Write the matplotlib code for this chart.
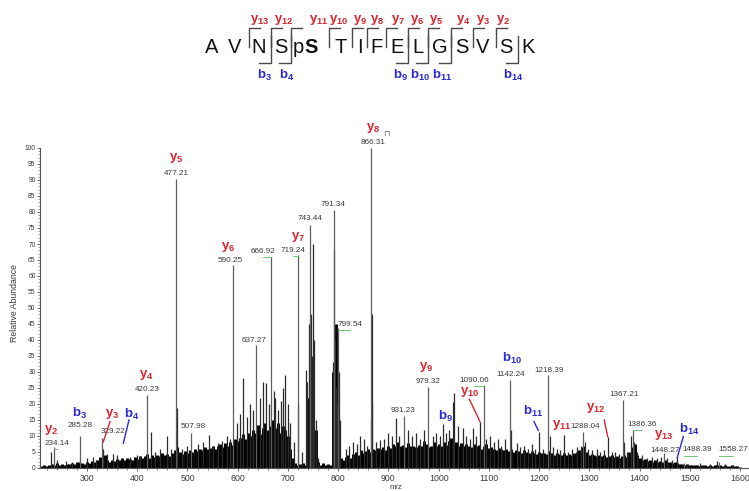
import numpy as np
import matplotlib
matplotlib.use("Agg")
import matplotlib.pyplot as plt

plt.rcParams['font.family'] = ['Liberation Sans', 'DejaVu Sans']
plt.rcParams['mathtext.fontset'] = 'custom'
plt.rcParams['mathtext.rm'] = 'Liberation Sans'
plt.rcParams['mathtext.it'] = 'Liberation Sans:italic'
plt.rcParams['mathtext.bf'] = 'Liberation Sans:bold'

# ---------------- data ----------------
residues = ['A', 'V', 'N', 'S', 'pS', 'T', 'I', 'F', 'E', 'L', 'G', 'S', 'V', 'S', 'K']
y_ions = [13, 12, 11, 10, 9, 8, 7, 6, 5, 4, 3, 2]
b_ions = [3, 4, 9, 10, 11, 14]

# labelled peaks (m/z, relative abundance)
labeled_mz = [234.14, 285.28, 329.22, 420.23, 477.21, 507.98, 590.25, 637.27, 666.92, 719.24,
              743.44, 791.34, 799.54, 866.31, 931.23, 979.32, 1090.06, 1142.24, 1218.39, 1288.04,
              1367.21, 1386.36, 1448.27, 1488.39, 1558.27]
labeled_int = [6.5, 10.0, 9.5, 22.8, 90.3, 11.0, 63.4, 38.4, 66.0, 66.5,
               76.0, 80.6, 43.7, 100.0, 16.2, 25.4, 26.0, 27.5, 29.0, 11.3,
               21.3, 12.0, 4.7, 1.5, 2.0]

# other distinct peaks
spike_mz = [229.0, 240, 258, 270, 300, 312, 318, 331.2, 340, 352,
            360, 385, 399, 405, 427, 435, 445, 459, 467, 478.2,
            490, 500, 520, 530, 543, 550, 561, 568, 578, 585,
            598, 604, 611, 618, 624, 630, 645, 650, 656, 662,
            672, 675, 680, 686, 690, 694, 700, 705, 712, 720.3,
            728, 735, 738, 741, 745, 748, 750, 752, 755, 760,
            790, 792.3, 794, 796, 798, 801, 803, 815, 822, 830,
            838, 844, 852, 858, 865, 867.3, 868.3, 875, 884, 892,
            900, 908, 915, 922, 940, 947, 955, 962, 970, 988,
            995, 1002, 1009, 1015, 1020, 1028, 1031, 1038, 1048, 1055,
            1062, 1069, 1075, 1083, 1095, 1103, 1110, 1118, 1125, 1132,
            1145, 1156, 1162, 1170, 1178, 1185, 1192, 1200, 1208, 1221,
            1228, 1235, 1242, 1250, 1258, 1265, 1275, 1283, 1292, 1298,
            1305, 1315, 1322, 1330, 1337, 1345, 1352, 1360, 1368.2, 1375,
            1384, 1388, 1395, 1405, 1415, 1425, 1435, 1442, 1455, 1465,
            1475, 1495, 1520, 1540, 1555, 1570, 1585]
spike_int = [5.1, 2.5, 2.2, 1.8, 3.0, 3.4, 2.5, 6.0, 4.5, 4.5,
             4.0, 3.5, 4.0, 3.8, 11.3, 5.0, 6.0, 10.0, 6.0, 18.7,
             6.0, 7.0, 7.5, 8.0, 10.3, 7.0, 7.9, 8.5, 10.0, 9.0,
             14.0, 17.0, 28.0, 16.0, 20.0, 18.0, 22.0, 27.0, 26.5, 20.0,
             24.0, 22.0, 18.0, 21.0, 25.0, 29.0, 20.0, 14.0, 8.0, 20.0,
             5.0, 30.6, 27.0, 45.0, 48.0, 35.0, 70.0, 40.0, 15.0, 3.0,
             33.0, 68.0, 40.0, 25.0, 20.0, 30.0, 15.0, 6.0, 7.0, 8.0,
             7.5, 10.0, 9.0, 7.0, 15.0, 48.0, 20.0, 8.0, 8.7, 9.0,
             11.0, 10.0, 15.6, 10.0, 12.0, 10.0, 11.0, 9.0, 12.0, 10.0,
             11.0, 10.0, 13.7, 11.0, 12.0, 20.7, 23.5, 13.0, 12.5, 10.0,
             9.0, 12.5, 10.0, 14.5, 9.0, 10.0, 8.0, 9.0, 7.0, 9.0,
             12.0, 7.8, 6.5, 7.0, 6.0, 7.5, 6.0, 11.3, 6.0, 10.0,
             6.5, 6.0, 5.5, 10.3, 5.0, 6.0, 6.6, 7.0, 8.0, 6.0,
             5.5, 6.0, 5.0, 5.5, 9.8, 5.0, 5.0, 4.5, 8.0, 5.0,
             10.0, 8.0, 5.0, 4.0, 3.0, 3.5, 3.0, 3.5, 3.0, 2.5,
             3.4, 1.2, 1.5, 1.2, 2.2, 1.3, 1.0]

# dense background signal, one value per 5 m/z starting at 210
noise_start = 210
noise_step = 5
noise_level = [
    0.5, 0.8, 0.6, 1.0, 1.2, 0.8, 1.5, 1.0, 1.3, 0.9,
    1.4, 1.1, 1.6, 1.2, 1.8, 2.0, 1.5, 1.3, 1.9, 1.6,
    2.2, 1.8, 2.5, 3.5, 3.0, 4.2, 2.4, 2.0, 2.6, 2.2,
    2.8, 2.4, 3.0, 2.6, 3.2, 2.8, 2.5, 3.3, 2.9, 3.6,
    3.0, 3.8, 4.5, 3.2, 4.0, 3.5, 4.2, 3.8, 4.6, 4.0,
    4.4, 3.8, 4.8, 5.5, 6.5, 5.0, 4.5, 5.2, 4.8, 5.6,
    5.0, 5.8, 5.2, 6.0, 5.5, 6.5, 5.8, 6.2, 7.0, 6.0,
    6.8, 7.5, 6.5, 7.8, 7.0, 8.0, 7.2, 9.0, 8.5, 9.5,
    10.5, 9.0, 11.0, 10.0, 12.0, 11.0, 13.5, 10.5, 12.5, 14.0,
    12.0, 13.0, 15.0, 12.5, 14.0, 11.0, 13.0, 12.0, 10.0, 6.0,
    3.0, 1.5, 1.0, 1.2, 1.5, 1.0, 22.0, 30.0, 28.0, 12.0,
    2.0, 1.0, 1.5, 0.8, 1.2, 1.0, 30.0, 45.0, 1.5, 3.0,
    2.5, 3.5, 4.0, 3.2, 4.5, 5.0, 4.2, 5.5, 4.8, 5.2,
    5.8, 5.0, 6.0, 5.5, 6.2, 5.8, 6.5, 5.5, 7.0, 6.2,
    7.5, 6.8, 8.0, 7.0, 7.2, 6.5, 7.8, 6.8, 7.0, 6.5,
    7.2, 6.8, 8.5, 7.5, 6.5, 7.0, 8.0, 6.8, 7.5, 7.0,
    8.0, 7.2, 8.5, 9.5, 7.5, 8.2, 7.0, 7.8, 6.8, 7.5,
    7.0, 6.5, 7.5, 6.8, 7.2, 6.0, 6.8, 7.5, 6.2, 6.5,
    6.0, 5.5, 6.2, 5.8, 5.5, 6.0, 5.2, 5.8, 5.0, 5.5,
    5.2, 4.8, 5.5, 5.0, 4.6, 5.2, 4.8, 4.5, 5.0, 4.6,
    4.8, 4.5, 5.2, 4.6, 4.2, 4.8, 4.4, 4.0, 4.6, 4.2,
    4.5, 4.0, 4.8, 5.0, 5.5, 6.5, 7.0, 5.0, 4.2, 4.5,
    4.0, 3.8, 4.2, 3.6, 4.0, 3.5, 3.8, 4.2, 3.4, 3.8,
    3.2, 3.6, 4.0, 3.5, 5.0, 6.5, 7.5, 4.0, 3.0, 2.5,
    2.8, 2.2, 2.5, 2.0, 2.4, 1.8, 2.2, 2.0, 2.6, 1.8,
    2.0, 1.6, 1.8, 1.5, 1.4, 1.2, 1.0, 1.2, 0.9, 1.0,
    0.8, 1.0, 0.7, 0.9, 0.8, 0.6, 0.9, 0.7, 0.8, 1.0,
    0.8, 0.6, 0.9, 0.7, 0.5, 0.8, 0.6, 0.5, 0.4]

# ion annotations on the spectrum
ion_kind = ['y', 'b', 'y', 'b', 'y', 'y', 'y', 'y', 'y', 'y',
            'b', 'y', 'b', 'b', 'y', 'y', 'y', 'b']
ion_num = [2, 3, 3, 4, 4, 5, 6, 7, 8, 9,
           9, 10, 10, 11, 11, 12, 13, 14]

# ---------------- layout ----------------
W, H = 749, 491
RED = '#d9262e'
BLUE = '#2a2ad4'
TXT = '#3a3a3a'

# label centres of the peak values (m/z, abundance units)
val_lab_x = [239.7, 286.1, 351.8, 420.0, 477.2, 511.6, 584.7, 633.1, 649.8, 710.7,
             744.0, 790.4, 823.6, 869.4, 929.7, 979.5, 1070.5, 1143.5, 1219.8, 1291.4,
             1369.1, 1404.3, 1450.7, 1514.4, 1586.1]
val_lab_y = [7.8, 13.4, 11.3, 24.4, 92.1, 12.9, 64.8, 39.7, 67.8, 68.1,
             77.9, 82.2, 44.9, 101.6, 17.9, 27.0, 27.5, 29.3, 30.6, 12.9,
             23.0, 13.7, 5.6, 5.8, 5.8]
leader = [True, False, False, False, False, False, False, False, True, True,
          False, False, True, False, False, False, True, False, False, False,
          False, True, False, True, True]

ion_lab_x = [229.5, 286.1, 349.2, 389.0, 418.7, 477.2, 581.3, 720.7, 869.4, 974.9,
             1014.1, 1062.5, 1145.4, 1187.3, 1245.0, 1313.3, 1447.3, 1498.5]
ion_lab_y = [11.9, 17.2, 16.8, 16.6, 29.1, 96.8, 69.0, 72.1, 106.3, 31.5,
             16.0, 23.8, 34.3, 17.6, 13.4, 18.7, 10.3, 11.9]
pointers = {2: ((345.8, 14.5), (332.5, 8.2)),
            3: ((383.6, 15.0), (372.3, 7.7)),
            11: ((1061.1, 21.5), (1082.4, 14.5)),
            13: ((1189.9, 14.5), (1198.4, 11.7)),
            15: ((1329.8, 15.0), (1336.6, 9.8)),
            17: ((1487.1, 9.8), (1475.2, 3.3))}

# sequence layout (pixels)
letter_x = [211.7, 235.0, 258.3, 280.7, 304.0, 340.7, 360.0, 376.7, 396.7, 417.7,
            440.0, 461.7, 482.7, 506.0, 528.3]
gap_x = [223, 249, 270.5, 291, 329, 352, 367, 386, 407.5, 428, 451, 473, 496, 518]
y_lab_x = [260, 283.3, 318.3, 338.3, 360, 376.7, 398.3, 416.7, 436.7, 463.3, 483.3, 503.3]
b_lab_x = [265, 286.7, 400.7, 420, 441.7, 513.3]

fig = plt.figure(figsize=(W / 100, H / 100), dpi=100)

# ---------- spectrum axes ----------
ax_left, ax_right, ax_bot, ax_top100 = 40, 749, 468, 148
x0_mz = 300 - (87 - ax_left) / 0.5023
x1_mz = x0_mz + (ax_right - ax_left) / 0.5023
ax = fig.add_axes([ax_left / W, 1 - ax_bot / H, (ax_right - ax_left) / W, (ax_bot - ax_top100) / H])
ax.set_xlim(x0_mz, x1_mz)
ax.set_ylim(0, 100)

noise_mz = noise_start + noise_step * np.arange(len(noise_level))
ax.vlines(noise_mz, 0, noise_level, color='black', lw=2.1, zorder=2)
ax.vlines(spike_mz, 0, spike_int, color='#2a2a2a', lw=0.9, zorder=3)
ax.vlines(labeled_mz, 0, labeled_int, color='#5e5e5e', lw=0.9, zorder=3)

for mz, h, lx, ly, ld in zip(labeled_mz, labeled_int, val_lab_x, val_lab_y, leader):
    ax.text(lx, ly, f'{mz:.2f}', fontsize=5.9, color=TXT, ha='center', va='center',
            clip_on=False, zorder=5)
    if ld:
        ax.plot([lx, mz], [ly - 1.9, ly - 1.9], color='#5cbf60', lw=0.6, zorder=4, clip_on=False)

for i, (k, n, lx, ly) in enumerate(zip(ion_kind, ion_num, ion_lab_x, ion_lab_y)):
    col = RED if k == 'y' else BLUE
    ax.text(lx, ly, r'$\mathbf{%s}_{\mathbf{%d}}$' % (k, n), fontsize=9.5, color=col,
            ha='center', va='center', clip_on=False, zorder=6)
    if i in pointers:
        (xa, ya), (xb, yb) = pointers[i]
        ax.plot([xa, xb], [ya, yb], color=col, lw=1.0, zorder=6)

ax.text(895.3, 104.6, '\u2293', fontsize=6, color='#666666', ha='center', va='center',
        family='DejaVu Sans', clip_on=False)

for s in ['top', 'right']:
    ax.spines[s].set_visible(False)
for s in ['left', 'bottom']:
    ax.spines[s].set_color('#555555')
    ax.spines[s].set_linewidth(0.8)

ax.set_xticks(np.arange(300, 1601, 100))
ax.set_xticks(np.arange(220, 1611, 20), minor=True)
ax.set_yticks(np.arange(0, 101, 5))
ax.set_yticks(np.arange(0, 101, 1), minor=True)
ax.tick_params(axis='x', which='major', labelsize=6.3, length=2.5, width=0.6,
               color='#555555', labelcolor=TXT, pad=2.0)
ax.tick_params(axis='x', which='minor', length=1.5, width=0.5, color='#555555')
ax.tick_params(axis='y', which='major', labelsize=4.8, length=2.2, width=0.6,
               color='#555555', labelcolor=TXT, pad=1)
ax.tick_params(axis='y', which='minor', length=1.3, width=0.4, color='#555555')
ax.patch.set_alpha(0)

fig.text(15 / W, 1 - 303 / H, 'Relative Abundance', rotation=90, fontsize=6.3,
         color=TXT, ha='center', va='center')
fig.text(396 / W, 1 - 487.5 / H, 'm/z', fontsize=5.8, color=TXT, ha='center', va='center')

# ---------- peptide sequence with fragment brackets ----------
sq = fig.add_axes([0, 0, 1, 1], zorder=10)
sq.set_xlim(0, W)
sq.set_ylim(H, 0)
sq.axis('off')
sq.patch.set_alpha(0)

base_y = 53
SEQ_FS = 14.5
for r, x in zip(residues, letter_x):
    if r == 'pS':
        sq.text(x - 0.5, base_y, 'p', fontsize=SEQ_FS, color='#111111', ha='right', va='baseline')
        sq.text(x + 0.5, base_y, 'S', fontsize=SEQ_FS, color='#111111', ha='left', va='baseline',
                fontweight='bold')
    else:
        sq.text(x, base_y, r, fontsize=SEQ_FS, color='#111111', ha='center', va='baseline')

L = len(residues)
br_col = '#4a4a4a'
for n, lx in zip(y_ions, y_lab_x):
    g = gap_x[L - n - 1]
    sq.plot([g, g, g + 11], [47, 28, 28], color=br_col, lw=1.0)
    sq.text(lx, 19.5, r'$\mathbf{y}_{\mathbf{%d}}$' % n, fontsize=9.5, color=RED,
            ha='center', va='center')
for n, lx in zip(b_ions, b_lab_x):
    g = gap_x[n - 1]
    sq.plot([g, g, g - 12], [36, 63, 63], color=br_col, lw=1.0)
    sq.text(lx, 75.5, r'$\mathbf{b}_{\mathbf{%d}}$' % n, fontsize=9.5, color=BLUE,
            ha='center', va='center')

fig.savefig('out.png', dpi=100)
